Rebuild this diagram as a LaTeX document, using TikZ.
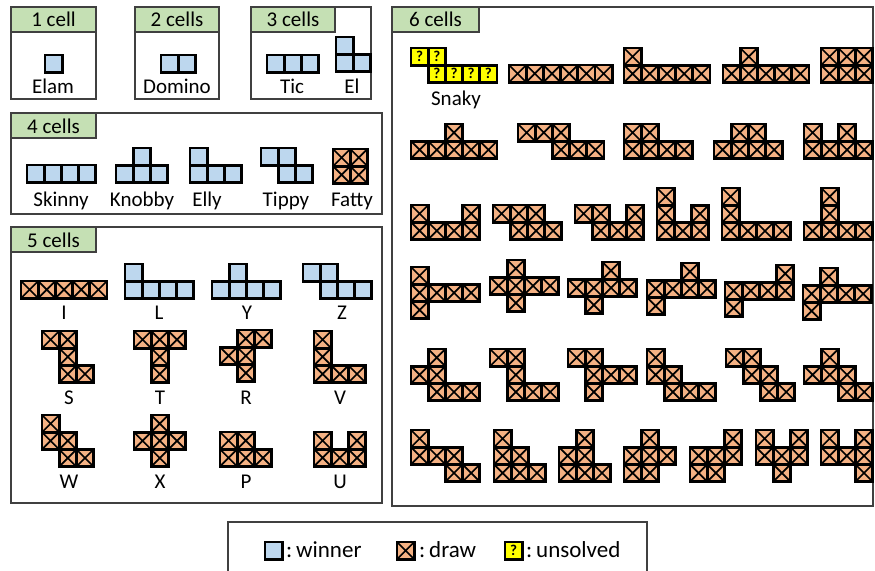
\documentclass[tikz,border=0pt]{standalone}
\usepackage{fontspec}
\setmainfont{Carlito}
\definecolor{winblue}{HTML}{BDD7EE}
\definecolor{drawora}{HTML}{F4B183}
\definecolor{openyel}{HTML}{FFFF00}
\definecolor{headgreen}{HTML}{C5E0B4}
\newcommand{\cs}{17.2}
\newcommand{\piece}[4]{\foreach \i/\j in {#4} {\pic at ({#2+\cs*\i},{#3+\cs*\j}) {#1};}}
\tikzset{
  cellline/.style={draw=black, line width=2.8pt},
  wincell/.pic={\filldraw[cellline, fill=winblue] (0,0) rectangle (\cs,\cs);},
  drawcell/.pic={\filldraw[cellline, fill=drawora] (0,0) rectangle (\cs,\cs);
    \draw[line width=1.7pt] (0,0) -- (\cs,\cs) (\cs,0) -- (0,\cs);},
  opencell/.pic={\filldraw[cellline, fill=openyel] (0,0) rectangle (\cs,\cs);
    \node[font=\fontsize{15}{15}\selectfont\bfseries, inner sep=0pt] at ({\cs/2},{\cs/2}) {?};},
  frame/.style={draw=black!75, line width=1.2pt},
  header/.style={draw=black!75, fill=headgreen, line width=1.2pt},
  headtext/.style={anchor=base, font=\fontsize{21}{25}\selectfont, inner sep=0pt},
  lbl/.style={anchor=base, font=\fontsize{21}{25}\selectfont, inner sep=0pt},
  keytext/.style={anchor=base west, font=\fontsize{23}{27}\selectfont, inner sep=0pt},
}
\begin{document}
\begin{tikzpicture}[x=1pt, y=-1pt]
\useasboundingbox (0,0) rectangle (875,570);

% 1 celda
\draw[frame] (11,7) rectangle (96,99);
\draw[header] (11,7) rectangle (96,32);
\node[headtext] (h1) at (53.5,27) {1 cell};
\piece{wincell}{45}{55}{0/0}
\node[lbl] (elam) at (53,93) {Elam};

% 2 celdas
\draw[frame] (135,7) rectangle (219,99);
\draw[header] (135,7) rectangle (219,32);
\node[headtext] (h2) at (177,27) {2 cells};
\piece{wincell}{161}{55}{0/0,1/0}
\node[lbl] (domino) at (177,93) {Domino};

% 3 celdas
\draw[frame] (251,7) rectangle (371,99);
\draw[header] (251,7) rectangle (335,32);
\node[headtext] (h3) at (293,27) {3 cells};
\piece{wincell}{267}{55}{0/0,1/0,2/0}
\node[lbl] (tic) at (292,93) {Tic};
\piece{wincell}{336}{37}{0/0,0/1,1/1}
\node[lbl] (el) at (352,93) {El};

% 4 celdas
\draw[frame] (11,113) rectangle (382,214);
\draw[header] (11,113) rectangle (96,138);
\node[headtext] (h4) at (53.5,133) {4 cells};
\piece{wincell}{27}{165}{0/0,1/0,2/0,3/0}
\node[lbl] (skinny) at (61,206) {Skinny};
\piece{wincell}{116}{148}{1/0,0/1,1/1,2/1}
\node[lbl] (knobby) at (142,206) {Knobby};
\piece{wincell}{190}{148}{0/0,0/1,1/1,2/1}
\node[lbl] (elly) at (207,206) {Elly};
\piece{wincell}{261}{148}{0/0,1/0,1/1,2/1}
\node[lbl] (tippy) at (286,206) {Tippy};
\piece{drawcell}{333}{149}{0/0,1/0,0/1,1/1}
\node[lbl] (fatty) at (352,206) {Fatty};

% 5 celdas
\draw[frame] (11,227) rectangle (382,503);
\draw[header] (11,227) rectangle (96,252);
\node[headtext] (h5) at (53.5,247) {5 cells};
\piece{drawcell}{21}{281}{0/0,1/0,2/0,3/0,4/0}
\node[lbl] (pI) at (64,319) {I};
\piece{wincell}{125}{264}{0/0,0/1,1/1,2/1,3/1}
\node[lbl] (pL) at (159,319) {L};
\piece{wincell}{212}{264}{1/0,0/1,1/1,2/1,3/1}
\node[lbl] (pY) at (247,319) {Y};
\piece{wincell}{303}{264}{0/0,1/0,1/1,2/1,3/1}
\node[lbl] (pZ) at (342,319) {Z};
\piece{drawcell}{42}{331}{0/0,1/0,1/1,1/2,2/2}
\node[lbl] (pS) at (69,404) {S};
\piece{drawcell}{134}{331}{0/0,1/0,2/0,1/1,1/2}
\node[lbl] (pT) at (160,404) {T};
\piece{drawcell}{220}{330}{1/0,2/0,0/1,1/1,1/2}
\node[lbl] (pR) at (246,404) {R};
\piece{drawcell}{314}{331}{0/0,0/1,0/2,1/2,2/2}
\node[lbl] (pV) at (340,404) {V};
\piece{drawcell}{42}{415}{0/0,0/1,1/1,1/2,2/2}
\node[lbl] (pW) at (69,488) {W};
\piece{drawcell}{134}{415}{1/0,0/1,1/1,2/1,1/2}
\node[lbl] (pX) at (160,488) {X};
\piece{drawcell}{220}{432}{0/0,1/0,0/1,1/1,2/1}
\node[lbl] (pP) at (246,488) {P};
\piece{drawcell}{314}{432}{0/0,2/0,0/1,1/1,2/1}
\node[lbl] (pU) at (340,488) {U};

% 6 celdas
\draw[frame] (392,7) rectangle (873,506);
\draw[header] (392,7) rectangle (479,32);
\node[headtext] (h6) at (435.5,27) {6 cells};
\piece{opencell}{411}{48}{0/0,1/0,1/1,2/1,3/1,4/1}
\node[lbl] (snaky) at (456,105) {Snaky};
\piece{drawcell}{509}{65}{0/0,1/0,2/0,3/0,4/0,5/0}
\piece{drawcell}{624}{48}{0/0,0/1,1/1,2/1,3/1,4/1}
\piece{drawcell}{723}{48}{1/0,0/1,1/1,2/1,3/1,4/1}
\piece{drawcell}{821}{48}{0/0,1/0,2/0,0/1,1/1,2/1}
% fila 2
\piece{drawcell}{411}{124}{2/0,0/1,1/1,2/1,3/1,4/1}
\piece{drawcell}{518}{124}{0/0,1/0,2/0,2/1,3/1,4/1}
\piece{drawcell}{624}{124}{0/0,1/0,0/1,1/1,2/1,3/1}
\piece{drawcell}{714}{124}{1/0,2/0,0/1,1/1,2/1,3/1}
\piece{drawcell}{804}{124}{0/0,2/0,0/1,1/1,2/1,3/1}
% fila 3
\piece{drawcell}{411}{205}{0/0,3/0,0/1,1/1,2/1,3/1}
\piece{drawcell}{493}{205}{0/0,1/0,2/0,1/1,2/1,3/1}
\piece{drawcell}{575}{205}{0/0,1/0,3/0,1/1,2/1,3/1}
\piece{drawcell}{657}{188}{0/0,0/1,2/1,0/2,1/2,2/2}
\piece{drawcell}{722}{188}{0/0,0/1,0/2,1/2,2/2,3/2}
\piece{drawcell}{804}{188}{1/0,1/1,0/2,1/2,2/2,3/2}
% fila 4
\piece{drawcell}{411}{267}{0/0,0/1,1/1,2/1,3/1,0/2}
\piece{drawcell}{490}{260}{1/0,0/1,1/1,2/1,3/1,1/2}
\piece{drawcell}{568}{262}{2/0,0/1,1/1,2/1,3/1,1/2}
\piece{drawcell}{647}{263}{2/0,0/1,1/1,2/1,3/1,0/2}
\piece{drawcell}{725}{265}{3/0,0/1,1/1,2/1,3/1,0/2}
\piece{drawcell}{803}{268}{1/0,0/1,1/1,2/1,3/1,0/2}
% fila 5
\piece{drawcell}{411}{349}{1/0,0/1,1/1,1/2,2/2,3/2}
\piece{drawcell}{490}{349}{0/0,1/0,1/1,1/2,2/2,3/2}
\piece{drawcell}{568}{349}{0/0,1/0,1/1,2/1,3/1,1/2}
\piece{drawcell}{647}{349}{0/0,0/1,1/1,1/2,2/2,3/2}
\piece{drawcell}{726}{349}{0/0,1/0,1/1,2/1,2/2,3/2}
\piece{drawcell}{804}{349}{1/0,0/1,1/1,2/1,2/2,3/2}
% fila 6
\piece{drawcell}{411}{430}{0/0,0/1,1/1,2/1,2/2,3/2}
\piece{drawcell}{494}{430}{0/0,0/1,1/1,0/2,1/2,2/2}
\piece{drawcell}{559}{430}{1/0,0/1,1/1,0/2,1/2,2/2}
\piece{drawcell}{624}{430}{1/0,0/1,1/1,2/1,0/2,1/2}
\piece{drawcell}{690}{430}{2/0,0/1,1/1,2/1,0/2,1/2}
\piece{drawcell}{756}{430}{0/0,2/0,0/1,1/1,2/1,1/2}
\piece{drawcell}{821}{430}{0/0,2/0,0/1,1/1,2/1,2/2}

% Leyenda
\draw[frame] (228,571) |- (647,522) -- (647,571);
\piece{wincell}{265}{542}{0/0}
\node[keytext] (kwin) at (286,557) {:\,winner};
\piece{drawcell}{397}{542}{0/0}
\node[keytext] (kdraw) at (419,557) {:\,draw};
\piece{opencell}{505}{542}{0/0}
\node[keytext] (kopen) at (526,557) {:\,unsolved};
\end{tikzpicture}
\end{document}
